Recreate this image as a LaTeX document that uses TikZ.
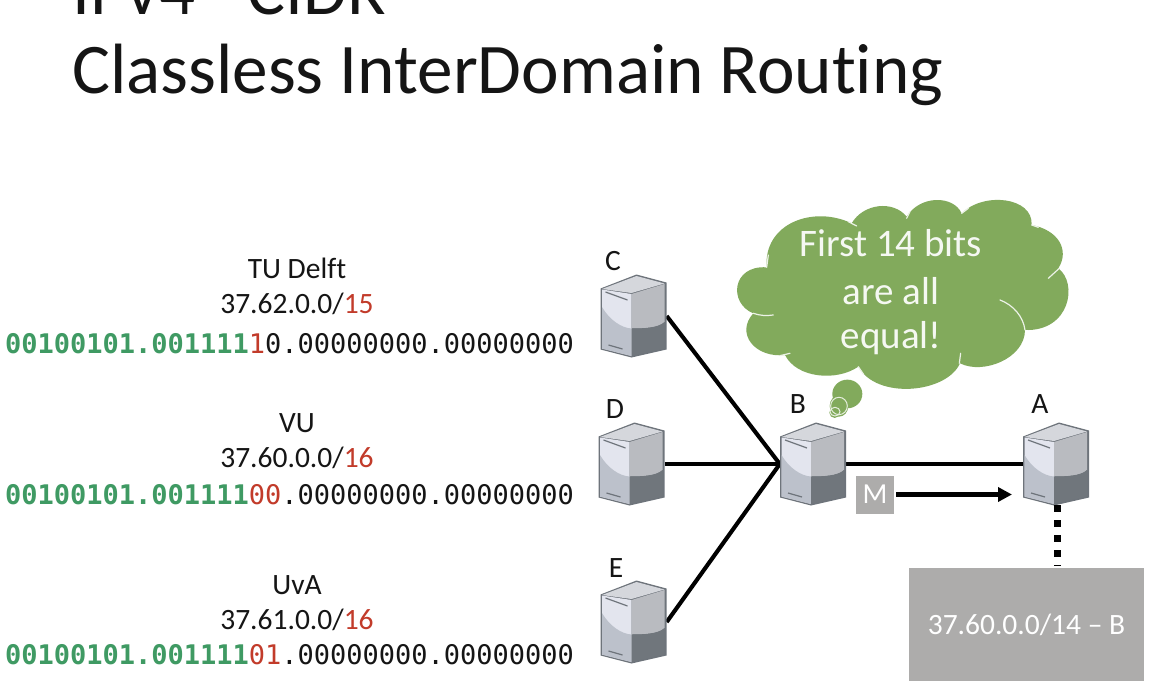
\documentclass[tikz,border=0pt]{standalone}
\usepackage{fontspec}
\setmainfont{Carlito}[Ligatures=NoCommon]
\newfontfamily\bitsfont{DejaVu Sans Mono}
\usetikzlibrary{arrows.meta}
\definecolor{cloudgreen}{HTML}{82AA5C}
\definecolor{bitgreen}{HTML}{3F9A63}
\definecolor{bitred}{HTML}{C23B2A}
\definecolor{boxgrey}{HTML}{ADACAB}
\definecolor{inkblack}{HTML}{151515}
\definecolor{srvedge}{HTML}{6E747B}
\definecolor{srvtop}{HTML}{D5D7DC}
\definecolor{srvleft}{HTML}{E3E5EE}
\definecolor{srvlow}{HTML}{BCC1CB}
\definecolor{srvright}{HTML}{B9BBC0}
\definecolor{srvdark}{HTML}{70767C}
\newcommand{\bitsA}[3]{{\bitsfont\color{bitgreen}\bfseries #1}{\bitsfont\color{bitred}#2}{\bitsfont\color{inkblack}#3}}
\tikzset{
  x=1pt,y=-1pt,
  label text/.style={font=\fontsize{29.5}{32}\selectfont,text=inkblack,inner sep=0pt,anchor=center},
  bit text/.style={font=\fontsize{27}{30}\selectfont,inner sep=0pt,anchor=center},
  cloud text/.style={inner sep=0pt,text=white!92!cloudgreen,font=\fontsize{39}{44}\selectfont},
  title text/.style={anchor=base west,inner sep=0pt,text=inkblack,font=\fontsize{71.2}{76}\selectfont},
  srv/.style={minimum width=66pt,minimum height=84pt,inner sep=0pt,draw=none},
  link/.style={draw=black,line width=4.1pt},
  greybox/.style={fill=boxgrey,text=white,inner sep=0pt,anchor=center},
  serverpic/.pic={
    \fill[fill=srvedge] (-33,-27.5) -- (3,-41.5) -- (33,-33.5) -- (33,33.5) -- (-2,41.5) -- (-33,33.5) -- cycle;
    \fill[fill=srvtop] (-31.5,-27) -- (3,-40) -- (31,-32.5) -- (-2,-23) -- cycle;
    \fill[fill=srvleft] (-31.5,-26.5) -- (-2,-22) -- (-2,40) -- (-31.5,32.5) -- cycle;
    \fill[fill=srvlow] (-31.5,-9) .. controls (-24,4) and (-12,12) .. (-2,12.5) -- (-2,40) -- (-31.5,32.5) -- cycle;
    \fill[fill=srvright] (-2,-22) -- (31,-32) -- (31,6) .. controls (25,12) and (10,12.5) .. (-2,12.5) -- cycle;
    \fill[fill=srvdark] (-2,12.5) .. controls (10,12.5) and (25,12) .. (31,6) -- (31,32.5) -- (-2,40) -- cycle;
    \draw[srvedge,line width=1.2pt] (-28,-24) -- (-6,-16);
    \draw[srvedge,line width=1.2pt] (-25,29) -- (-11,33);
  }
}
\begin{document}
\begin{tikzpicture}
\useasboundingbox (0,0) rectangle (1154,696);
\clip (0,0) rectangle (1154,696);
\fill[white] (0,0) rectangle (1154,696);

% title
\node[title text] (title1) at (72,14.5) {IPv4\hspace{-7pt} – \hspace{-8pt}CIDR};
\node[title text] (title2) at (72,93) {Classless InterDomain Routing};

% left labels
\node[label text] (n1) at (297,268) {TU Delft};
\node[label text] (p1) at (297,304) {37.62.0.0/{\color{bitred}15}};
\node[bit text] (b1) at (289.5,344) {\bitsA{00100101.001111}{1}{0.00000000.00000000}};
\node[label text] (n2) at (297,423) {VU};
\node[label text] (p2) at (297,458) {37.60.0.0/{\color{bitred}16}};
\node[bit text] (b2) at (289.5,495) {\bitsA{00100101.001111}{00}{.00000000.00000000}};
\node[label text] (n3) at (297,585) {UvA};
\node[label text] (p3) at (297,620) {37.61.0.0/{\color{bitred}16}};
\node[bit text] (b3) at (289.5,655) {\bitsA{00100101.001111}{01}{.00000000.00000000}};

% router nodes
\node[srv] (C) at (633.5,316) {};
\node[srv] (D) at (631.5,464) {};
\node[srv] (E) at (633.5,622) {};
\node[srv] (B) at (813,464) {};
\node[srv] (A) at (1056,464) {};

\draw[link] (C.east) -- (B.west);
\draw[link] (D.east) -- (B.west);
\draw[link] (E.east) -- (B.west);
\draw[link] (B.east) -- (A.west);

\pic at (C) {serverpic};
\pic at (D) {serverpic};
\pic at (E) {serverpic};
\pic at (B) {serverpic};
\pic at (A) {serverpic};

\node[label text] (lC) at (613,261) {C};
\node[label text] (lD) at (615,409) {D};
\node[label text] (lE) at (616,568) {E};
\node[label text] (lB) at (798,404) {B};
\node[label text] (lA) at (1040,404) {A};

% message
\node[greybox,minimum width=38pt,minimum height=38pt,font=\fontsize{29}{32}\selectfont] (M) at (875,494.5) {M};
\coordinate (arrowend) at (1012,494.5);
\draw[draw=black,line width=4.6pt,-{Triangle[length=14pt,width=14pt]}] (M.east) ++(2,0) -- (arrowend);

% table
\node[greybox,minimum width=235pt,minimum height=113pt,font=\fontsize{29.5}{32}\selectfont] (T) at (1026.5,624.7) {37.60.0.0/14 – B};
\coordinate (dotstart) at (1057,505);
\coordinate (dotend) at (1057,566);
\draw[draw=black,line width=7pt,dash pattern=on 6.5pt off 8.5pt] (dotstart) -- (dotend);

% cloud
\begin{scope}[shift={(730,190)},x=.3333pt,y=-.3333pt]
\fill[cloudgreen]
  (110,232) .. controls (100,100) and (250,45) .. (365,100)
  .. controls (400,40) and (490,30) .. (530,80)
  .. controls (570,15) and (670,15) .. (695,70)
  .. controls (760,5) and (910,20) .. (905,105)
  .. controls (985,120) and (1020,180) .. (985,235)
  .. controls (1045,280) and (1020,425) .. (885,420)
  .. controls (885,505) and (760,555) .. (690,520)
  .. controls (650,610) and (440,630) .. (385,530)
  .. controls (320,575) and (200,565) .. (165,495)
  .. controls (75,505) and (15,430) .. (70,370)
  .. controls (-5,340) and (5,225) .. (110,232) -- cycle;
\draw[white!85!cloudgreen,line width=1.2pt,line cap=round]
  (810,330) .. controls (850,345) and (880,380) .. (885,420)
  (385,530) -- (400,552)
  (130,375) .. controls (110,378) and (90,377) .. (70,370)
  (180,490) -- (150,497)
  (955,265) -- (988,235)
  (692,490) -- (688,520)
  (905,105) -- (925,112)
  (695,70) -- (715,55)
  (530,85) -- (540,65)
  (355,95) -- (380,108)
  (110,232) -- (115,195);
\fill[cloudgreen] (352,612) ellipse [x radius=45,y radius=43];
\fill[cloudgreen] (327,648) ellipse [x radius=28,y radius=32];
\fill[cloudgreen] (314,668) circle (16);
\draw[white!80!cloudgreen,line width=1pt] (327,648) ellipse [x radius=25,y radius=26];
\draw[white!80!cloudgreen,line width=1pt] (315,665) ellipse [x radius=15,y radius=13];
\end{scope}
\node[cloud text] (c1) at (891,243) {First 14 bits};
\node[cloud text] (c2) at (891,291) {are all};
\node[cloud text] (c3) at (891,338) {equal!};
\end{tikzpicture}
\end{document}
